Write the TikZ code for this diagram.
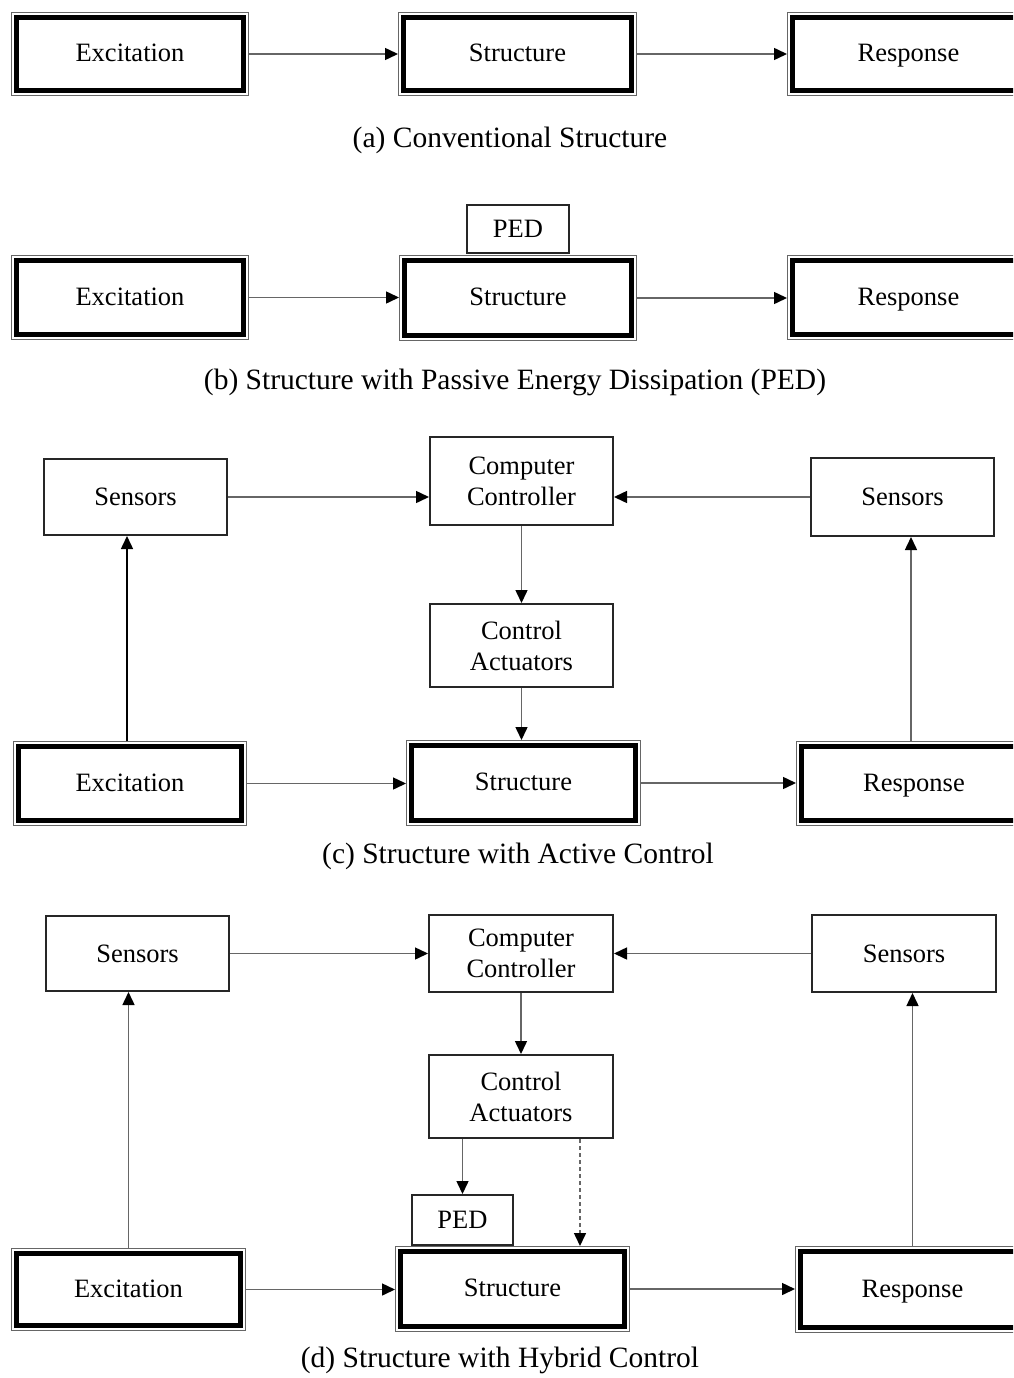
\documentclass[tikz,border=0pt]{standalone}
\usepackage{fontspec}
\setmainfont{Liberation Serif}
\usetikzlibrary{arrows.meta}
\tikzset{
 bigbox/.style={draw=black, line width=4.8pt, fill=white, inner sep=0pt, outer sep=5.8pt, font=\fontsize{26.5}{32}\selectfont, align=center, text height=21pt, text depth=6pt},
 frame/.style={draw=black!60, line width=1.3pt},
 plainbox/.style={draw=black!85, line width=2pt, fill=white, inner sep=0pt, outer sep=1pt, font=\fontsize{26.5}{31}\selectfont, align=center},
 arr/.style={draw=black!60, line width=1.5pt, -{Triangle[length=13pt,width=12pt,color=black]}},
 captext/.style={font=\fontsize{29.5}{34}\selectfont}
}
\newcommand\bigb[6]{%
 \pgfmathsetmacro\bbcx{(#2+#4)/2}\pgfmathsetmacro\bbcy{(#3+#5)/2}%
 \pgfmathsetmacro\bbw{#4-#2-11.6}\pgfmathsetmacro\bbh{#5-#3-11.6}%
 \node[bigbox, minimum width=\bbw pt, minimum height=\bbh pt] (#1) at (\bbcx,\bbcy) {#6};
 \draw[frame] ([shift={(0.65,0.65)}]#1.north west) rectangle ([shift={(-0.65,-0.65)}]#1.south east);}
\newcommand\plb[6]{%
 \pgfmathsetmacro\bbcx{(#2+#4)/2}\pgfmathsetmacro\bbcy{(#3+#5)/2}%
 \pgfmathsetmacro\bbw{#4-#2-2}\pgfmathsetmacro\bbh{#5-#3-2}%
 \node[plainbox, minimum width=\bbw pt, minimum height=\bbh pt] (#1) at (\bbcx,\bbcy) {#6};}
\begin{document}
\begin{tikzpicture}[x=1pt,y=-1pt]
\path[use as bounding box] (0,0) rectangle (1013,1378);
\clip (0,0) rectangle (1013,1378);
% (a)
\bigb{exa}{11}{12}{249}{96}{Excitation}
\bigb{sta}{398}{12}{637}{96}{Structure}
\bigb{rea}{787}{12}{1030}{96}{Response}
\draw[arr] (exa.east) -- (exa.east -| sta.west);
\draw[arr] (sta.east) -- (sta.east -| rea.west);
\node[captext] (capa) at (510,140) {(a) Conventional Structure};
% (b)
\bigb{exb}{11}{255}{249}{340}{Excitation}
\bigb{stb}{399}{255}{637}{341}{Structure}
\bigb{reb}{787}{255}{1030}{340}{Response}
\plb{pedb}{466}{204}{570}{254}{PED}
\draw[arr] (exb.east) -- (exb.east -| stb.west);
\draw[arr] (stb.east) -- (stb.east -| reb.west);
\node[captext] (capb) at (515,382) {(b) Structure with Passive Energy Dissipation (PED)};
% (c)
\plb{slc}{43}{458}{228}{536}{Sensors}
\plb{ccc}{429}{436}{614}{526}{Computer\\Controller}
\plb{src}{810}{457}{995}{537}{Sensors}
\plb{cac}{429}{603}{614}{688}{Control\\Actuators}
\bigb{exc}{13}{741}{247}{826}{Excitation}
\bigb{stc}{406}{740}{641}{826}{Structure}
\bigb{rec}{796}{741}{1032}{826}{Response}
\draw[arr] (slc.east) -- (slc.east -| ccc.west);
\draw[arr] (src.west) -- (src.west -| ccc.east);
\draw[arr] (ccc.south) -- (cac.north);
\draw[arr] (cac.south) -- (cac.south |- stc.north);
\draw[arr] (exc.east) -- (exc.east -| stc.west);
\draw[arr] (stc.east) -- (stc.east -| rec.west);
\draw[arr,draw=black] ([xshift=-3]exc.north) -- ([xshift=-3]exc.north |- slc.south);
\draw[arr] ([xshift=-3]rec.north) -- ([xshift=-3]rec.north |- src.south);
\node[captext] (capc) at (518,856) {(c) Structure with Active Control};
% (d)
\plb{sld}{45}{915}{230}{992}{Sensors}
\plb{ccd}{428}{914}{614}{993}{Computer\\Controller}
\plb{srd}{811}{914}{997}{993}{Sensors}
\plb{cad}{428}{1054}{614}{1139}{Control\\Actuators}
\bigb{exd}{11}{1248}{246}{1331}{Excitation}
\bigb{std}{395}{1246}{630}{1332}{Structure}
\bigb{red}{795}{1246}{1030}{1333}{Response}
\plb{pedd}{411}{1194}{514}{1246}{PED}
\draw[arr] (sld.east) -- (sld.east -| ccd.west);
\draw[arr] (srd.west) -- (srd.west -| ccd.east);
\draw[arr] (ccd.south) -- (cad.north);
\draw[arr] (cad.south -| pedd.north) -- (pedd.north);
\coordinate (dd) at (580,1139);
\draw[arr,dashed,dash pattern=on 4pt off 3pt] (dd) -- (dd |- std.north);
\draw[arr] (exd.north) -- (exd.north |- sld.south);
\draw[arr] (red.north) -- (red.north |- srd.south);
\draw[arr] (exd.east) -- (exd.east -| std.west);
\draw[arr] (std.east) -- (std.east -| red.west);
\node[captext] (capd) at (500,1360) {(d) Structure with Hybrid Control};
\end{tikzpicture}
\end{document}
